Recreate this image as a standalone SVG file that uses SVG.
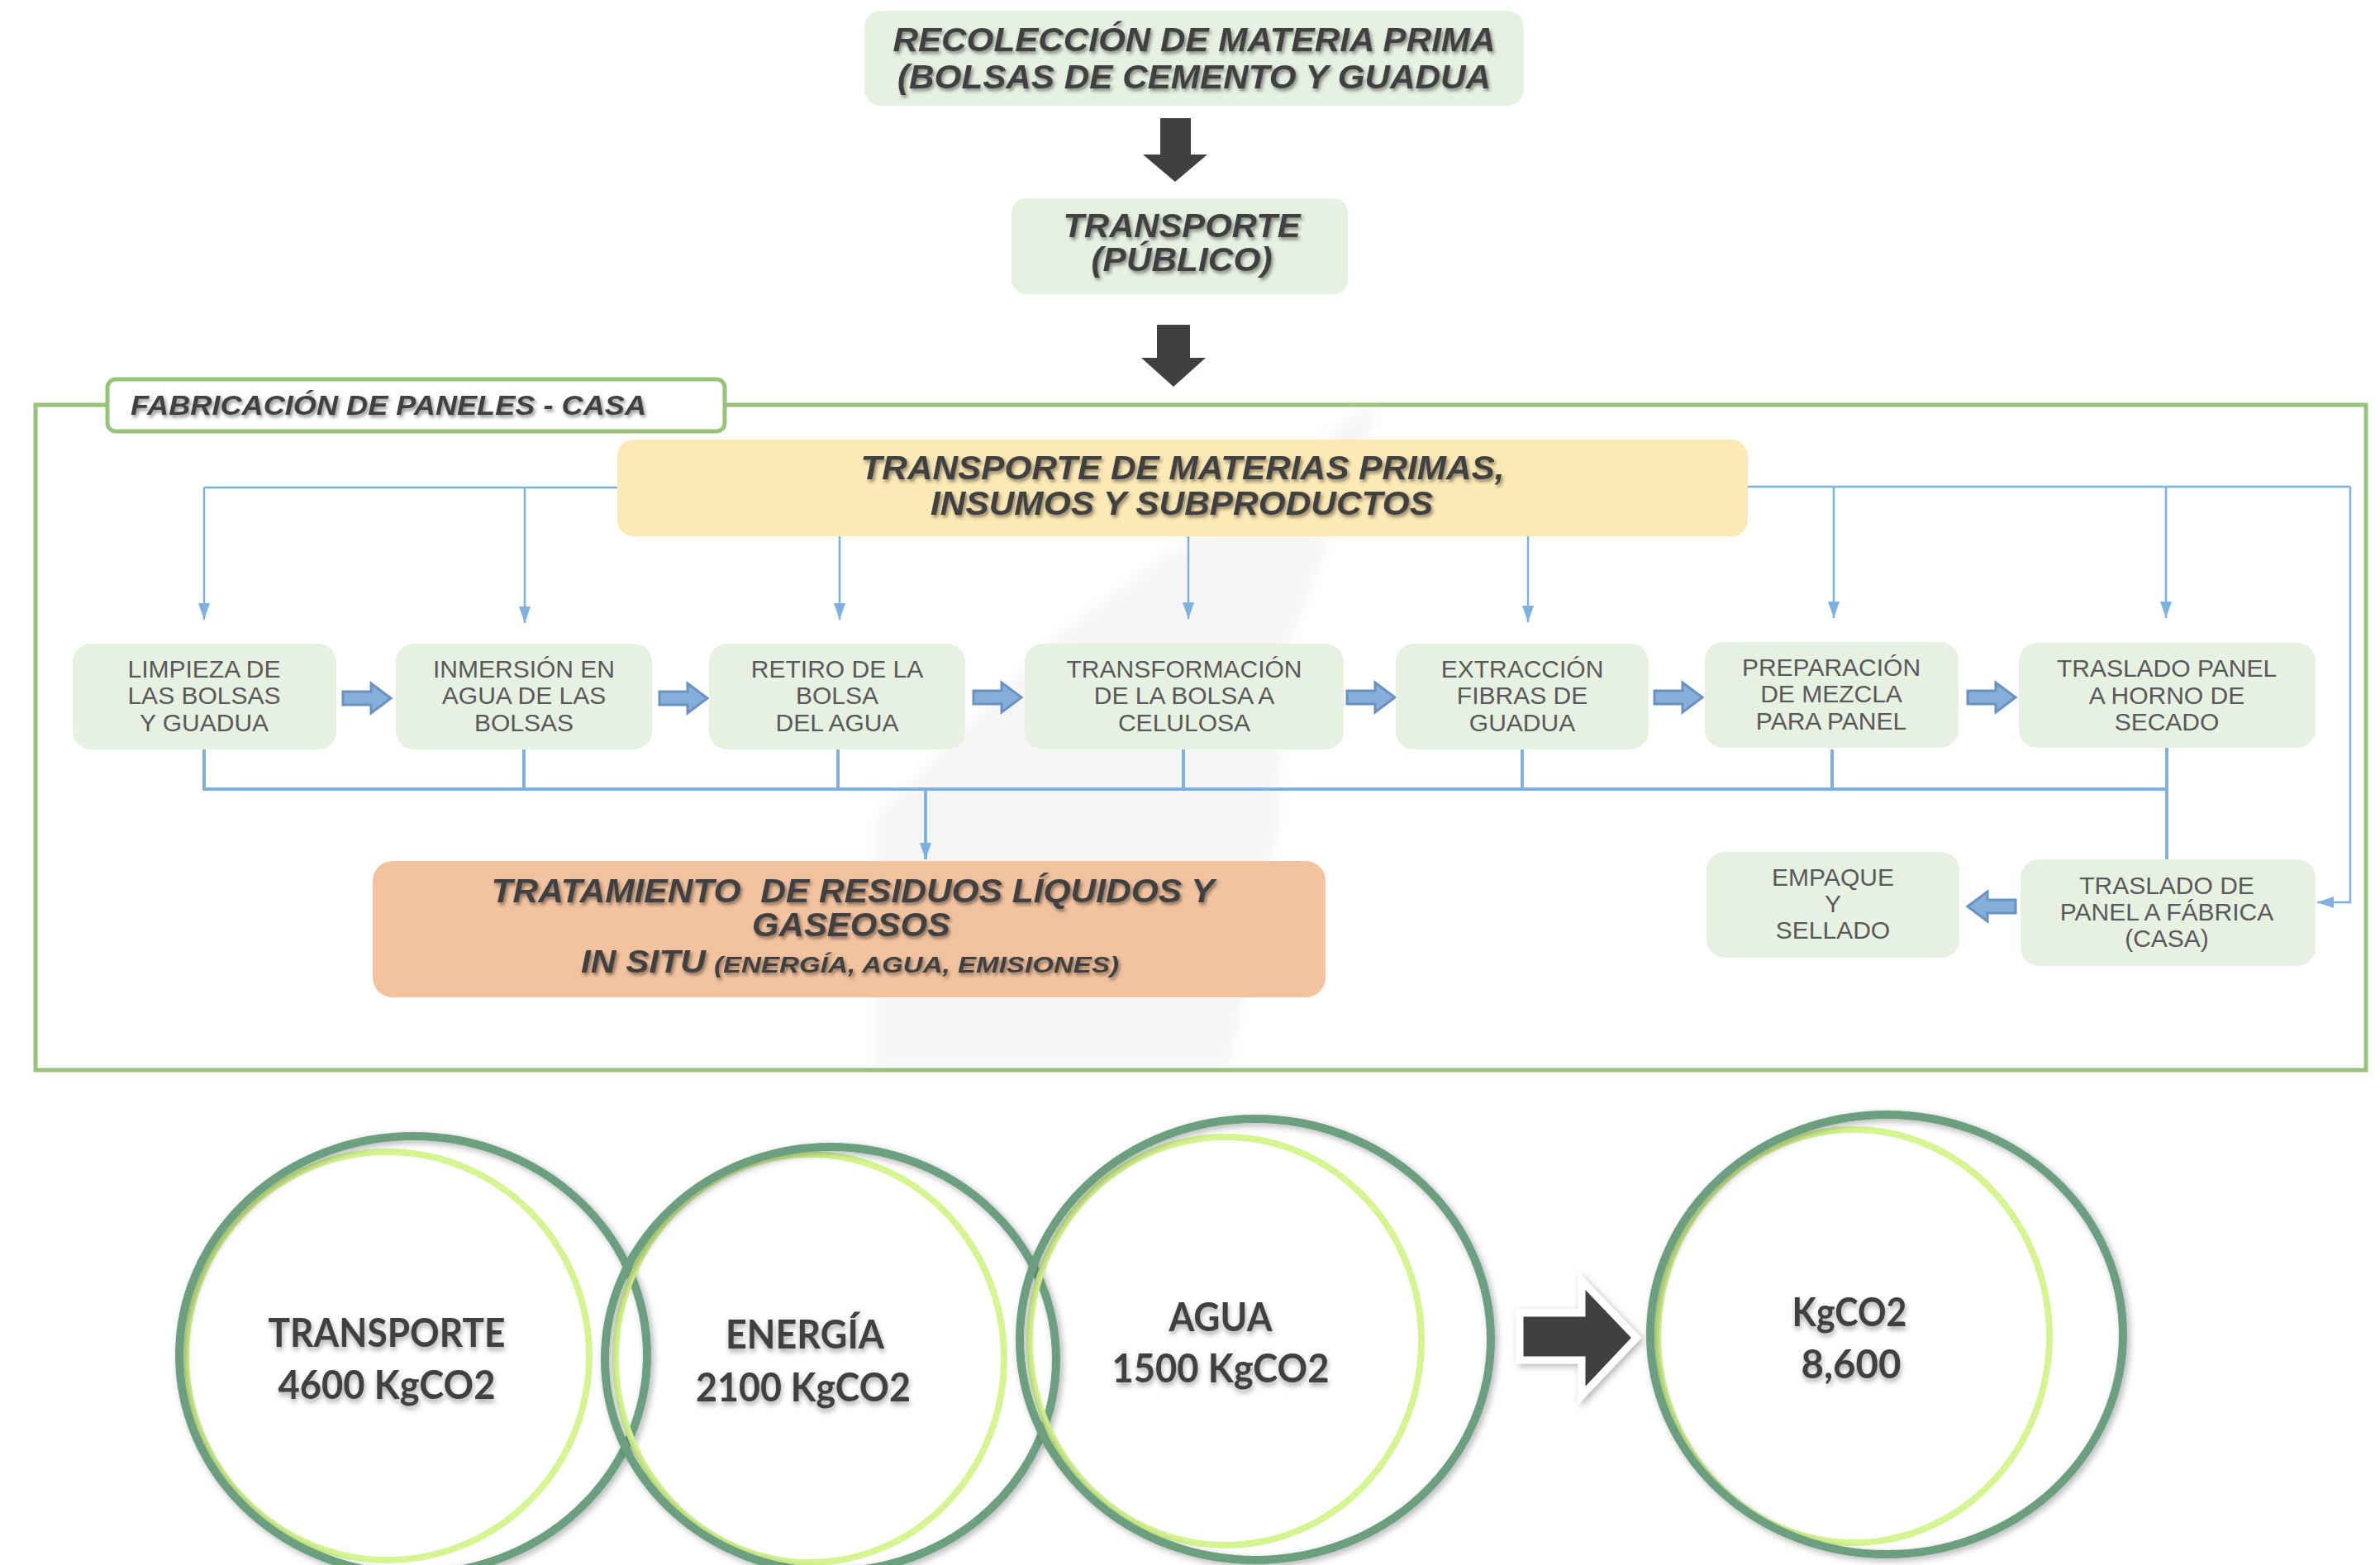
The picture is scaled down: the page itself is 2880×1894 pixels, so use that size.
<svg xmlns="http://www.w3.org/2000/svg" width="2880" height="1894" viewBox="0 0 2880 1894">
<defs>
<style>
.hd{font-family:"Liberation Sans",Arial,sans-serif;font-weight:700;font-style:italic;fill:#404040;filter:url(#tsh);white-space:pre}
.pt{font-family:"Liberation Sans",Arial,sans-serif;font-size:30px;fill:#595959;text-anchor:middle}
.ct{font-family:Lato,"Liberation Sans",sans-serif;font-weight:700;font-size:48px;fill:#404040;text-anchor:middle;filter:url(#tsh2)}
.gbox{fill:#E7F1E2}
.ln{fill:none;stroke:#7EB0E0;stroke-width:2.5}
.lnt{fill:none;stroke:#7EB0E0;stroke-width:4}
.ba{fill:#86AEDB;stroke:#6B92BE;stroke-width:3}
.ro{fill:none;stroke:#6C9F80;stroke-width:10}
.ri{fill:none;stroke:#D4F590;stroke-width:8}
</style>
<filter id="tsh" x="-5%" y="-30%" width="110%" height="160%">
<feDropShadow dx="2" dy="3" stdDeviation="2" flood-color="#000" flood-opacity="0.45"/>
</filter>
<filter id="tsh2" x="-5%" y="-30%" width="110%" height="160%">
<feDropShadow dx="1" dy="4" stdDeviation="3" flood-color="#000" flood-opacity="0.35"/>
</filter>
<filter id="ash" x="-20%" y="-20%" width="140%" height="140%">
<feDropShadow dx="3" dy="3" stdDeviation="4" flood-color="#000" flood-opacity="0.3"/>
</filter>
<filter id="blur"><feGaussianBlur stdDeviation="8"/></filter>
<marker id="ah" markerUnits="userSpaceOnUse" viewBox="0 0 20 14" refX="20" refY="7" markerWidth="20" markerHeight="14" orient="auto">
<path d="M0,0 L20,7 L0,14 Z" fill="#7EB0E0"/>
</marker>
<path id="tha" d="M0,-8 H34 V-18 L58,0 L34,18 V8 H0 Z"/>
</defs>
<rect x="0" y="0" width="2880" height="1894" fill="#FFFFFF"/>
<polygon points="1650,494 1668,494 1560,780 1545,1010 1488,1292 1060,1292 1060,990 1270,776" fill="#000" opacity="0.035" filter="url(#blur)"/>

<g id="recoleccion">
<rect x="1046" y="13" width="798" height="115" rx="20" class="gbox"/>
<text class="hd" x="1445" y="62" font-size="41" text-anchor="middle" textLength="729" lengthAdjust="spacingAndGlyphs">RECOLECCIÓN DE MATERIA PRIMA</text>
<text class="hd" x="1445" y="107" font-size="41" text-anchor="middle" textLength="718" lengthAdjust="spacingAndGlyphs">(BOLSAS DE CEMENTO Y GUADUA</text>
</g>
<g id="arrow-top-1">
<polygon points="1404,143 1441,143 1441,187 1461,187 1422,220 1383,187 1404,187" fill="#404040"/>
</g>
<g id="transporte-publico">
<rect x="1224" y="240" width="407" height="116" rx="18" class="gbox"/>
<text class="hd" x="1430" y="287" font-size="40" text-anchor="middle" textLength="287" lengthAdjust="spacingAndGlyphs">TRANSPORTE</text>
<text class="hd" x="1430" y="328" font-size="40" text-anchor="middle" textLength="219" lengthAdjust="spacingAndGlyphs">(PÚBLICO)</text>
</g>
<g id="arrow-top-2">
<polygon points="1400,393 1440,393 1440,433 1459,433 1420,468 1381,433 1400,433" fill="#404040"/>
</g>

<g id="frame">
<rect x="43" y="490" width="2820" height="805" fill="none" stroke="#97C47A" stroke-width="5"/>
<rect x="130" y="459" width="747" height="63" rx="10" fill="#FFFFFF" stroke="#97C47A" stroke-width="5"/>
<text class="hd" x="158" y="502" font-size="34" textLength="624" lengthAdjust="spacingAndGlyphs">FABRICACIÓN DE PANELES - CASA</text>
</g>

<g id="transporte-materias">
<rect x="747" y="532" width="1368" height="117" rx="20" fill="#FDE9B5"/>
<text class="hd" x="1431" y="580" font-size="41" text-anchor="middle" textLength="779" lengthAdjust="spacingAndGlyphs">TRANSPORTE DE MATERIAS PRIMAS,</text>
<text class="hd" x="1430" y="623" font-size="41" text-anchor="middle" textLength="608" lengthAdjust="spacingAndGlyphs">INSUMOS Y SUBPRODUCTOS</text>
</g>

<g id="connectors">
<path class="ln" d="M747,590 H247"/>
<path class="ln" d="M247,590 V750" marker-end="url(#ah)"/>
<path class="ln" d="M635,590 V754" marker-end="url(#ah)"/>
<path class="ln" d="M1016,649 V750" marker-end="url(#ah)"/>
<path class="ln" d="M1438,649 V749" marker-end="url(#ah)"/>
<path class="ln" d="M1849,649 V753" marker-end="url(#ah)"/>
<path class="ln" d="M2115,589 H2844"/>
<path class="ln" d="M2219,589 V748" marker-end="url(#ah)"/>
<path class="ln" d="M2621,589 V748" marker-end="url(#ah)"/>
<path class="ln" d="M2844,589 V1092 H2804" marker-end="url(#ah)"/>
<path class="lnt" d="M247,907 V955 H2622"/>
<path class="lnt" d="M634,907 V955"/>
<path class="lnt" d="M1014,907 V955"/>
<path class="lnt" d="M1432,907 V955"/>
<path class="lnt" d="M1842,907 V955"/>
<path class="lnt" d="M2217,907 V955"/>
<path class="lnt" d="M2622,905 V1040" stroke-width="5"/>
<path class="lnt" d="M1120,955 V1040" marker-end="url(#ah)"/>
<use href="#tha" class="ba" transform="translate(415,845)"/>
<use href="#tha" class="ba" transform="translate(798,845)"/>
<use href="#tha" class="ba" transform="translate(1178,844)"/>
<use href="#tha" class="ba" transform="translate(1630,844)"/>
<use href="#tha" class="ba" transform="translate(2002,844)"/>
<use href="#tha" class="ba" transform="translate(2381,844)"/>
<use href="#tha" class="ba" transform="translate(2439,1097) scale(-1,1)"/>
</g>

<g id="limpieza">
<rect x="88" y="779" width="319" height="128" rx="22" class="gbox"/>
<text class="pt" x="247" y="820">LIMPIEZA DE</text>
<text class="pt" x="247" y="852">LAS BOLSAS</text>
<text class="pt" x="247" y="885">Y GUADUA</text>
</g>
<g id="inmersion">
<rect x="479" y="779" width="310" height="128" rx="22" class="gbox"/>
<text class="pt" x="634" y="820">INMERSIÓN EN</text>
<text class="pt" x="634" y="852">AGUA DE LAS</text>
<text class="pt" x="634" y="885">BOLSAS</text>
</g>
<g id="retiro">
<rect x="858" y="779" width="310" height="128" rx="22" class="gbox"/>
<text class="pt" x="1013" y="820">RETIRO DE LA</text>
<text class="pt" x="1013" y="852">BOLSA</text>
<text class="pt" x="1013" y="885">DEL AGUA</text>
</g>
<g id="transformacion">
<rect x="1240" y="779" width="386" height="128" rx="22" class="gbox"/>
<text class="pt" x="1433" y="820">TRANSFORMACIÓN</text>
<text class="pt" x="1433" y="852">DE LA BOLSA A</text>
<text class="pt" x="1433" y="885">CELULOSA</text>
</g>
<g id="extraccion">
<rect x="1689" y="779" width="306" height="128" rx="22" class="gbox"/>
<text class="pt" x="1842" y="820">EXTRACCIÓN</text>
<text class="pt" x="1842" y="852">FIBRAS DE</text>
<text class="pt" x="1842" y="885">GUADUA</text>
</g>
<g id="preparacion">
<rect x="2063" y="777" width="307" height="128" rx="22" class="gbox"/>
<text class="pt" x="2216" y="818">PREPARACIÓN</text>
<text class="pt" x="2216" y="850">DE MEZCLA</text>
<text class="pt" x="2216" y="883">PARA PANEL</text>
</g>
<g id="traslado-horno">
<rect x="2443" y="778" width="359" height="127" rx="22" class="gbox"/>
<text class="pt" x="2622" y="819">TRASLADO PANEL</text>
<text class="pt" x="2622" y="852">A HORNO DE</text>
<text class="pt" x="2622" y="884">SECADO</text>
</g>
<g id="traslado-fabrica">
<rect x="2445" y="1040" width="357" height="129" rx="22" class="gbox"/>
<text class="pt" x="2622" y="1082">TRASLADO DE</text>
<text class="pt" x="2622" y="1114">PANEL A FÁBRICA</text>
<text class="pt" x="2622" y="1146">(CASA)</text>
</g>
<g id="empaque">
<rect x="2065" y="1031" width="306" height="128" rx="22" class="gbox"/>
<text class="pt" x="2218" y="1072">EMPAQUE</text>
<text class="pt" x="2218" y="1104">Y</text>
<text class="pt" x="2218" y="1136">SELLADO</text>
</g>

<g id="tratamiento">
<rect x="451" y="1042" width="1153" height="165" rx="24" fill="#F3C3A0"/>
<text class="hd" x="1032" y="1092" font-size="40" text-anchor="middle" textLength="875" lengthAdjust="spacingAndGlyphs">TRATAMIENTO  DE RESIDUOS LÍQUIDOS Y</text>
<text class="hd" x="1030" y="1133" font-size="40" text-anchor="middle" textLength="240" lengthAdjust="spacingAndGlyphs">GASEOSOS</text>
<text class="hd" x="703" y="1177" font-size="38"><tspan textLength="151" lengthAdjust="spacingAndGlyphs">IN SITU</tspan><tspan font-size="28" dx="10" textLength="490" lengthAdjust="spacingAndGlyphs">(ENERGÍA, AGUA, EMISIONES)</tspan></text>
</g>

<g id="circle-transporte">
<ellipse cx="469" cy="1641" rx="244" ry="247" class="ri"/>
<ellipse cx="500" cy="1640" rx="283" ry="265" class="ro" filter="url(#ash)"/>
<text class="ct" x="468" y="1630" textLength="287" lengthAdjust="spacingAndGlyphs">TRANSPORTE</text>
<text class="ct" x="468" y="1693" textLength="263" lengthAdjust="spacingAndGlyphs">4600 KgCO2</text>
</g>
<g id="circle-energia">
<ellipse cx="980" cy="1644" rx="235" ry="247" class="ri"/>
<ellipse cx="1005" cy="1645" rx="273" ry="257" class="ro" filter="url(#ash)"/>
<text class="ct" x="974" y="1632" textLength="192" lengthAdjust="spacingAndGlyphs">ENERGÍA</text>
<text class="ct" x="972" y="1696" textLength="260" lengthAdjust="spacingAndGlyphs">2100 KgCO2</text>
</g>
<g id="circle-agua">
<ellipse cx="1483" cy="1623" rx="237" ry="247" class="ri"/>
<ellipse cx="1519" cy="1621" rx="285" ry="267" class="ro" filter="url(#ash)"/>
<text class="ct" x="1477" y="1611" textLength="125" lengthAdjust="spacingAndGlyphs">AGUA</text>
<text class="ct" x="1477" y="1673" textLength="263" lengthAdjust="spacingAndGlyphs">1500 KgCO2</text>
</g>
<g id="arrow-total">
<polygon points="1839,1589 1914,1589 1914,1550 1980,1619 1914,1689 1914,1646 1839,1646" fill="#404040" stroke="#FFFFFF" stroke-width="9" stroke-linejoin="miter" filter="url(#ash)"/>
</g>
<g id="circle-total">
<ellipse cx="2243" cy="1617" rx="237" ry="250" class="ri"/>
<ellipse cx="2283" cy="1615" rx="286" ry="266" class="ro" filter="url(#ash)"/>
<text class="ct" x="2238" y="1605" textLength="139" lengthAdjust="spacingAndGlyphs">KgCO2</text>
<text class="ct" x="2240" y="1668" textLength="121" lengthAdjust="spacingAndGlyphs">8,600</text>
</g>
</svg>
